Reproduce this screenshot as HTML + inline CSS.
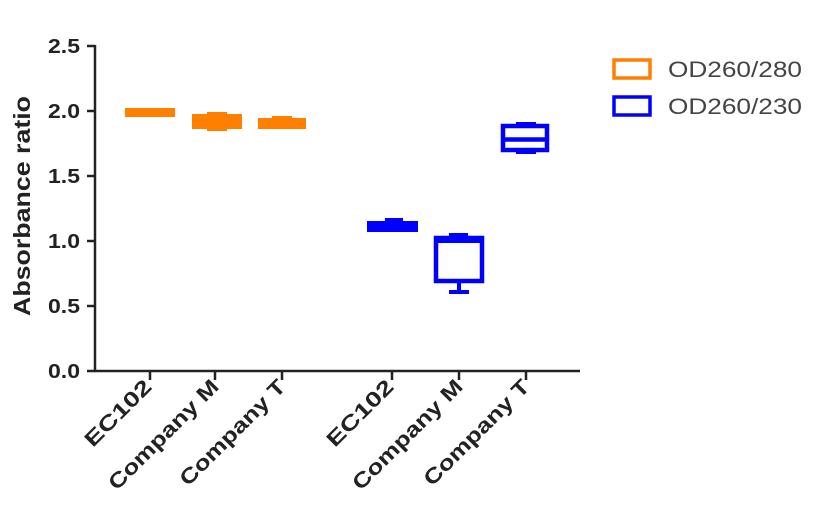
<!DOCTYPE html>
<html><head><style>body{margin:0;background:#fff}svg{display:block}</style></head><body>
<svg width="815" height="517" xmlns="http://www.w3.org/2000/svg" font-family="Liberation Sans, Arial, sans-serif">
<g stroke="#222" stroke-width="2.5" fill="none">
<path d="M95,45 V371 H580"/>
<path d="M87,46 H95 M87,111 H95 M87,176 H95 M87,241 H95 M87,306 H95 M87,371 H95"/>
<path d="M150,371 V380 M215,371 V380 M282,371 V380 M392,371 V380 M459,371 V380 M526,371 V380"/>
</g>
<g font-size="20" font-weight="bold" fill="#222">
<text x="48" y="53" textLength="32" lengthAdjust="spacingAndGlyphs">2.5</text>
<text x="48" y="118" textLength="32" lengthAdjust="spacingAndGlyphs">2.0</text>
<text x="48" y="183" textLength="32" lengthAdjust="spacingAndGlyphs">1.5</text>
<text x="48" y="248" textLength="32" lengthAdjust="spacingAndGlyphs">1.0</text>
<text x="48" y="313" textLength="32" lengthAdjust="spacingAndGlyphs">0.5</text>
<text x="48" y="378" textLength="32" lengthAdjust="spacingAndGlyphs">0.0</text>
</g>
<text transform="translate(30,316) rotate(-90)" font-size="23" font-weight="bold" fill="#222" textLength="220" lengthAdjust="spacingAndGlyphs">Absorbance ratio</text>
<g font-size="21" font-weight="bold" fill="#222">
<text transform="translate(153,388) rotate(-45) translate(-85,0)" textLength="85" lengthAdjust="spacingAndGlyphs">EC102</text>
<text transform="translate(220,388) rotate(-45) translate(-146,0)" textLength="146" lengthAdjust="spacingAndGlyphs">Company M</text>
<text transform="translate(287,388) rotate(-45) translate(-140,0)" textLength="140" lengthAdjust="spacingAndGlyphs">Company T</text>
<text transform="translate(395,388) rotate(-45) translate(-85,0)" textLength="85" lengthAdjust="spacingAndGlyphs">EC102</text>
<text transform="translate(464,388) rotate(-45) translate(-146,0)" textLength="146" lengthAdjust="spacingAndGlyphs">Company M</text>
<text transform="translate(531,388) rotate(-45) translate(-140,0)" textLength="140" lengthAdjust="spacingAndGlyphs">Company T</text>
</g>
<g fill="#ff7f00">
<rect x="125" y="108" width="50" height="9"/>
<rect x="192" y="114" width="50" height="15"/><rect x="207" y="112" width="20" height="19"/>
<rect x="258" y="118" width="48" height="11"/><rect x="272" y="116" width="20" height="4"/>
</g>
<g fill="#0000ff">
<rect x="367" y="221" width="51" height="11"/><rect x="385" y="218" width="18" height="4"/>
<rect x="434" y="236" width="50" height="7"/><rect x="449" y="233" width="19" height="4"/>
<rect x="449" y="290" width="20" height="4"/><rect x="457" y="281" width="4" height="11"/>
<rect x="516" y="122" width="20" height="4"/><rect x="516" y="150" width="20" height="4"/>
</g>
<g fill="none" stroke="#0000ff" stroke-width="4.5">
<rect x="436" y="238" width="46" height="43"/>
<rect x="503" y="126" width="44" height="24"/>
<path d="M503,139.5 H547"/>
</g>
<rect x="614" y="60" width="36" height="18" fill="none" stroke="#ff7f00" stroke-width="3.5"/>
<rect x="614" y="97" width="36" height="18" fill="none" stroke="#0000ff" stroke-width="3.5"/>
<g font-size="22" fill="#444">
<text x="668" y="77" textLength="134" lengthAdjust="spacingAndGlyphs">OD260/280</text>
<text x="668" y="114" textLength="134" lengthAdjust="spacingAndGlyphs">OD260/230</text>
</g>
</svg>
</body></html>
